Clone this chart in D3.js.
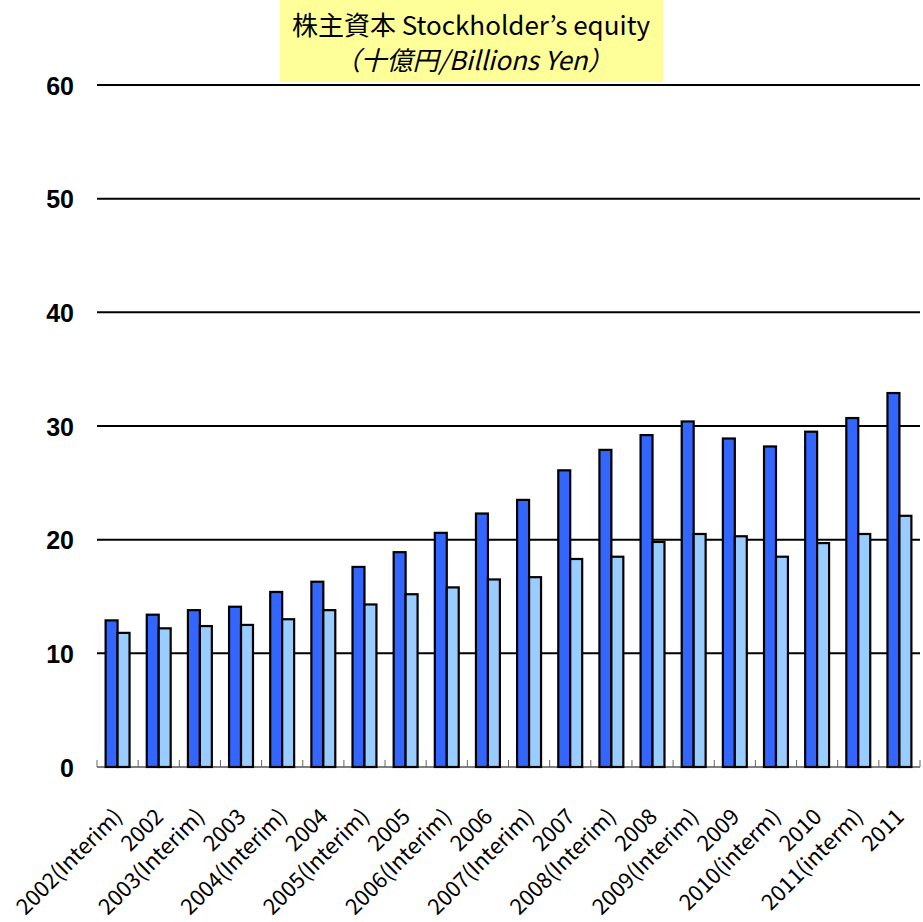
<!DOCTYPE html>
<html><head><meta charset="utf-8">
<script src="https://cdn.jsdelivr.net/npm/d3@7"></script>
<style>body{margin:0;background:#fff}svg{display:block}</style>
</head><body>
<svg id="c" width="923" height="922"></svg>
<script>
const categories = ["2002(Interim)","2002","2003(Interim)","2003","2004(Interim)","2004","2005(Interim)","2005","2006(Interim)","2006","2007(Interim)","2007","2008(Interim)","2008","2009(Interim)","2009","2010(interm)","2010","2011(interm)","2011"];
const seriesA = [12.9,13.4,13.8,14.1,15.4,16.3,17.6,18.9,20.6,22.3,23.5,26.1,27.9,29.2,30.4,28.9,28.2,29.5,30.7,32.9];
const seriesB = [11.8,12.2,12.4,12.5,13.0,13.8,14.3,15.2,15.8,16.5,16.7,18.3,18.5,19.8,20.5,20.3,18.5,19.7,20.5,22.1];
const yTicks = [0,10,20,30,40,50,60];
const titleLines = ["株主資本 Stockholder’s equity","（十億円/Billions Yen）"];

const svg = d3.select("#c");
const L=97,R=920,T=85,B=767;
const x0 = d3.scaleBand().domain(categories).range([L,R]).paddingInner(0).paddingOuter(0);
const x1 = d3.scaleBand().domain(["a","b"]).range([0,x0.bandwidth()]).paddingInner(0).paddingOuter(0.72);
const y = d3.scaleLinear().domain([0,60]).range([B,T]);

// title box
svg.append("rect").attr("x",280).attr("y",0).attr("width",383).attr("height",82).attr("fill","#FFFF99");
svg.append("text").attr("x",471).attr("y",35).attr("text-anchor","middle")
  .attr("font-family","'Noto Sans CJK JP'").attr("font-size",26).text(titleLines[0]);
svg.append("text").attr("x",474).attr("y",70).attr("text-anchor","middle")
  .attr("font-family","'Noto Sans CJK JP'").attr("font-size",26).attr("font-style","italic").text(titleLines[1]);

// gridlines
svg.append("g").selectAll("line").data(yTicks.filter(d=>d>0)).join("line")
  .attr("x1",L).attr("x2",R).attr("y1",d=>y(d)).attr("y2",d=>y(d))
  .attr("stroke","#000").attr("stroke-width",2);

// y labels
svg.append("g").selectAll("text").data(yTicks).join("text")
  .attr("x",74).attr("y",d=>y(d)+9.5).attr("text-anchor","end")
  .attr("font-family","'Liberation Sans',Arial").attr("font-weight","bold").attr("font-size",25)
  .text(d=>d);

// bars
const data = categories.map((c,i)=>({c, a:seriesA[i], b:seriesB[i]}));
const g = svg.append("g");
g.selectAll("g").data(data).join("g").attr("transform",d=>`translate(${x0(d.c)},0)`)
  .selectAll("rect").data(d=>[{k:"a",v:d.a},{k:"b",v:d.b}]).join("rect")
  .attr("x",d=>x1(d.k)).attr("width",x1.bandwidth())
  .attr("y",d=>y(d.v)).attr("height",d=>B-y(d.v))
  .attr("fill",d=>d.k==="a"?"#3366FF":"#99CCFF")
  .attr("stroke","#000").attr("stroke-width",2.2);

// baseline and ticks
svg.append("line").attr("x1",L).attr("x2",R).attr("y1",B).attr("y2",B).attr("stroke","#000").attr("stroke-width",1.2);
const tickPos = categories.map(c=>x0(c)).concat([R]);
svg.append("g").selectAll("line").data(tickPos).join("line")
  .attr("x1",d=>d).attr("x2",d=>d).attr("y1",B-7).attr("y2",B)
  .attr("stroke","#666").attr("stroke-width",1);

// x labels
svg.append("g").selectAll("text").data(categories).join("text")
  .attr("transform",c=>`translate(${x0(c)+x0.bandwidth()/2+6},${B+51}) rotate(-45)`)
  .attr("text-anchor","end")
  .attr("font-family","'Noto Sans CJK JP'").attr("font-size",22)
  .text(c=>c);
</script>
</body></html>
